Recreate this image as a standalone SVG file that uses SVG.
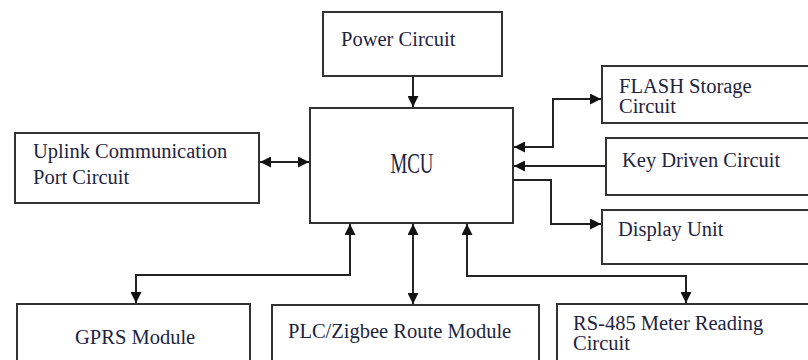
<svg xmlns="http://www.w3.org/2000/svg" width="808" height="360" viewBox="0 0 808 360">
<style>
.box{fill:#fff;stroke:#333;stroke-width:2}
.t{font-family:"Liberation Serif","Times New Roman",serif;font-size:20.5px;fill:#1e2440}
.c{fill:none;stroke:#222;stroke-width:2}
</style>
<defs>
<marker id="ah" viewBox="0 0 10 10" refX="10" refY="5" markerWidth="11" markerHeight="11" markerUnits="userSpaceOnUse" orient="auto-start-reverse">
<path d="M0,0 L10,5 L0,10 z" fill="#111"/>
</marker>
</defs>
<rect width="808" height="360" fill="#fff"/>
<g id="power"><rect class="box" x="323" y="12" width="179" height="64"/><text class="t" x="341" y="46">Power Circuit</text></g>
<g id="mcu"><rect class="box" x="310" y="108" width="203" height="115"/><text x="412" y="173" text-anchor="middle" font-family="Liberation Serif,serif" font-size="29" textLength="43" lengthAdjust="spacingAndGlyphs" fill="#1e2440">MCU</text></g>
<g id="uplink"><rect class="box" x="15" y="133" width="244" height="70"/><text class="t" x="33" y="158">Uplink Communication</text><text class="t" x="33" y="184">Port Circuit</text></g>
<g id="flash"><rect class="box" x="602" y="66" width="218" height="57"/><text class="t" x="619" y="93">FLASH Storage</text><text class="t" x="619" y="113">Circuit</text></g>
<g id="key"><rect class="box" x="606" y="138" width="214" height="57"/><text class="t" x="622" y="167">Key Driven Circuit</text></g>
<g id="display"><rect class="box" x="602" y="210" width="218" height="54"/><text class="t" x="618" y="236">Display Unit</text></g>
<g id="gprs"><rect class="box" x="17" y="304" width="233" height="70"/><text class="t" x="75" y="344">GPRS Module</text></g>
<g id="plc"><rect class="box" x="272" y="305" width="267" height="70"/><text class="t" x="288" y="338">PLC/Zigbee Route Module</text></g>
<g id="rs485"><rect class="box" x="557" y="304" width="263" height="70"/><text class="t" x="573" y="330">RS-485 Meter Reading</text><text class="t" x="573" y="350">Circuit</text></g>
<g id="connectors">
<path class="c" d="M413,76 V107" marker-end="url(#ah)"/>
<path class="c" d="M260,162 H309" marker-start="url(#ah)" marker-end="url(#ah)"/>
<path class="c" d="M514,147 H553 V99 H601" marker-start="url(#ah)" marker-end="url(#ah)"/>
<path class="c" d="M605,166 H514" marker-end="url(#ah)"/>
<path class="c" d="M513,180 H551 V224 H601" marker-end="url(#ah)"/>
<path class="c" d="M350,224 V275 H136 V303" marker-start="url(#ah)" marker-end="url(#ah)"/>
<path class="c" d="M413,224 V304" marker-start="url(#ah)" marker-end="url(#ah)"/>
<path class="c" d="M467,224 V276 H686 V303" marker-start="url(#ah)" marker-end="url(#ah)"/>
</g>
</svg>
